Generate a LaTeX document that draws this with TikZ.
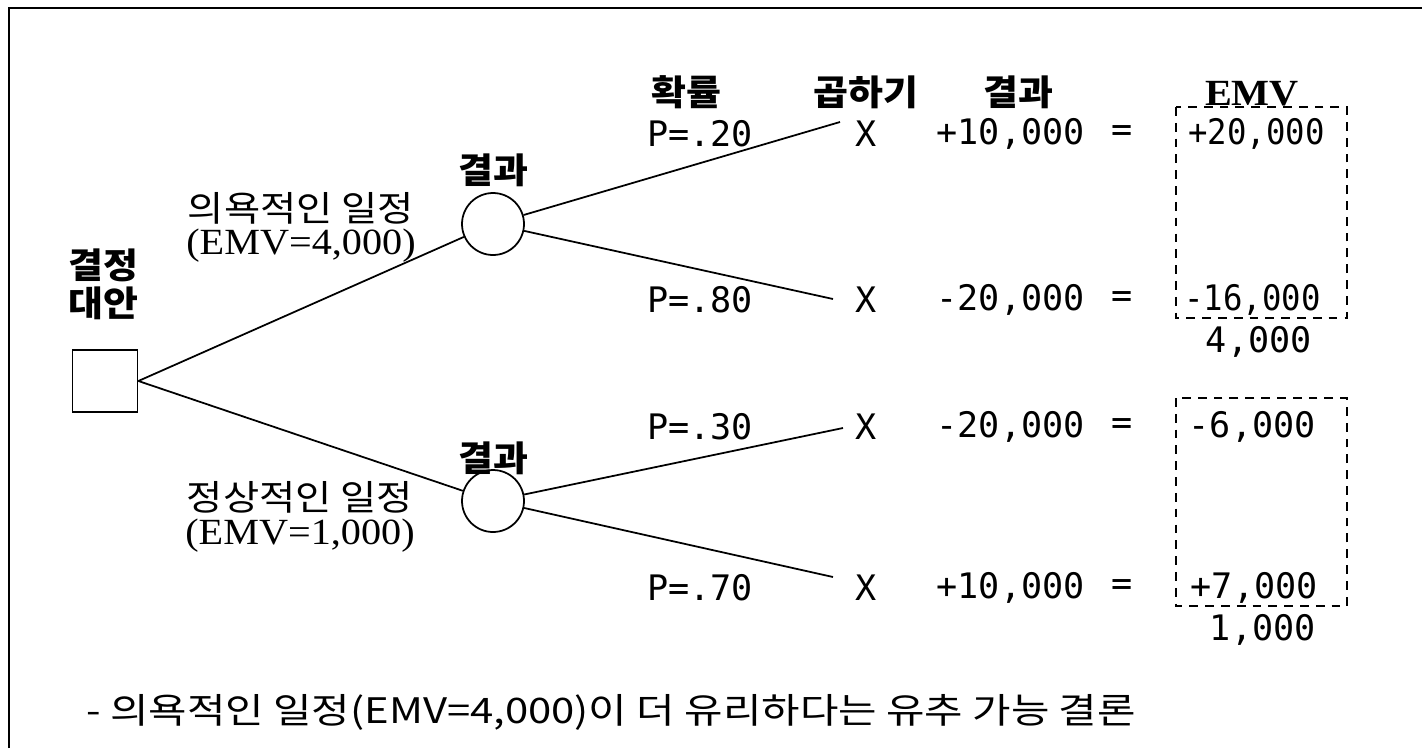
\documentclass[tikz,border=0pt]{standalone}
\usepackage{fontspec}
\newfontfamily\kr[FakeStretch=1.12]{Noto Sans CJK KR}
\newfontfamily\krb[FakeStretch=1.08]{Noto Sans CJK KR}
\newfontfamily\krw[FakeStretch=1.19]{Noto Sans CJK KR}
\newfontfamily\mono{DejaVu Sans Mono}
\newfontfamily\monon[FakeStretch=0.92]{DejaVu Sans Mono}
\newfontfamily\serif[FakeStretch=1.09]{Liberation Serif}
\tikzset{
  lbl/.style={inner sep=0pt, font=\kr\fontsize{20}{22}\selectfont},
  hdr/.style={inner sep=0pt, font=\krb\bfseries\fontsize{20}{22}\selectfont},
  num/.style={inner sep=0pt, font=\mono\fontsize{20}{22}\selectfont},
  numn/.style={inner sep=0pt, font=\monon\fontsize{20}{22}\selectfont},
  emv/.style={inner sep=0pt, font=\serif\fontsize{21}{23}\selectfont},
  conn/.style={line width=1pt},
  dbox/.style={line width=1pt, dash pattern=on 5pt off 4pt},
}
\begin{document}
\begin{tikzpicture}[x=0.02cm,y=-0.02cm]
\useasboundingbox (0,0) rectangle (1422,748);
% frame
\draw[line width=1.2pt] (9,748) -- (9,8) -- (1422,8);
% decision node
\node[draw, line width=1pt, minimum width=1.3cm, minimum height=1.24cm, inner sep=0pt] (sq) at (105,381) {};
\node[hdr] (d1) at (103,265) {결정};
\node[hdr] (d2) at (103,303) {대안};
% chance nodes
\node[draw, circle, line width=1pt, minimum size=1.24cm, inner sep=0pt] (c1) at (493,224) {};
\node[draw, circle, line width=1pt, minimum size=1.24cm, inner sep=0pt] (c2) at (493,501) {};
\node[hdr] (r1) at (493,170) {결과};
\node[hdr] (r2) at (493,458) {결과};
% branch labels
\node[lbl] (l1) at (301,208) {의욕적인 일정};
\node[emv] (l1e) at (301,246) {(EMV=4,000)};
\node[lbl] (l2) at (300,497) {정상적인 일정};
\node[emv] (l2e) at (300,536) {(EMV=1,000)};
% end coordinates
\coordinate (e1) at (840,122);
\coordinate (e2) at (833,299);
\coordinate (e3) at (843,428);
\coordinate (e4) at (833,577);
\draw[conn] (sq.east) -- (c1);
\draw[conn] (sq.east) -- (c2);
\draw[conn] (c1) -- (e1);
\draw[conn] (c1) -- (e2);
\draw[conn] (c2) -- (e3);
\draw[conn] (c2) -- (e4);
% headers
\node[hdr] (h1) at (686,92) {확률};
\node[hdr] (h2) at (866,92) {곱하기};
\node[hdr] (h3) at (1018,92) {결과};
\node[inner sep=0pt, font=\serif\bfseries\fontsize{21}{23}\selectfont] (h4) at (1252,94) {EMV};
% rows
\node[num, anchor=west] (p1) at (647,134) {P=.20};
\node[num] (x1) at (866,134) {X};
\node[num, anchor=east] (v1) at (1085,134) {+10,000};
\node[num] (q1) at (1122,134) {=};
\node[numn, anchor=east] (m1) at (1325,134) {+20,000};

\node[num, anchor=west] (p2) at (647,300) {P=.80};
\node[num] (x2) at (866,300) {X};
\node[num, anchor=east] (v2) at (1085,300) {-20,000};
\node[num] (q2) at (1122,300) {=};
\node[numn, anchor=east] (m2) at (1321,300) {-16,000};
\node[num, anchor=east] (s1) at (1312,342) {4,000};

\node[num, anchor=west] (p3) at (647,427) {P=.30};
\node[num] (x3) at (866,427) {X};
\node[num, anchor=east] (v3) at (1085,427) {-20,000};
\node[num] (q3) at (1122,427) {=};
\node[num, anchor=east] (m3) at (1316,427) {-6,000};

\node[num, anchor=west] (p4) at (647,588) {P=.70};
\node[num] (x4) at (866,588) {X};
\node[num, anchor=east] (v4) at (1085,588) {+10,000};
\node[num] (q4) at (1122,588) {=};
\node[num, anchor=east] (m4) at (1318,588) {+7,000};
\node[num, anchor=east] (s2) at (1316,630) {1,000};
% dashed boxes
\draw[dbox] (1176,107) rectangle (1347,318);
\draw[dbox] (1176,398) rectangle (1347,606);
% conclusion
\node[inner sep=0pt, font=\krw\fontsize{20}{22}\selectfont, anchor=west] (con) at (86,712) {- 의욕적인 일정(EMV=4,000)이 더 유리하다는 유추 가능 결론};
\end{tikzpicture}
\end{document}
